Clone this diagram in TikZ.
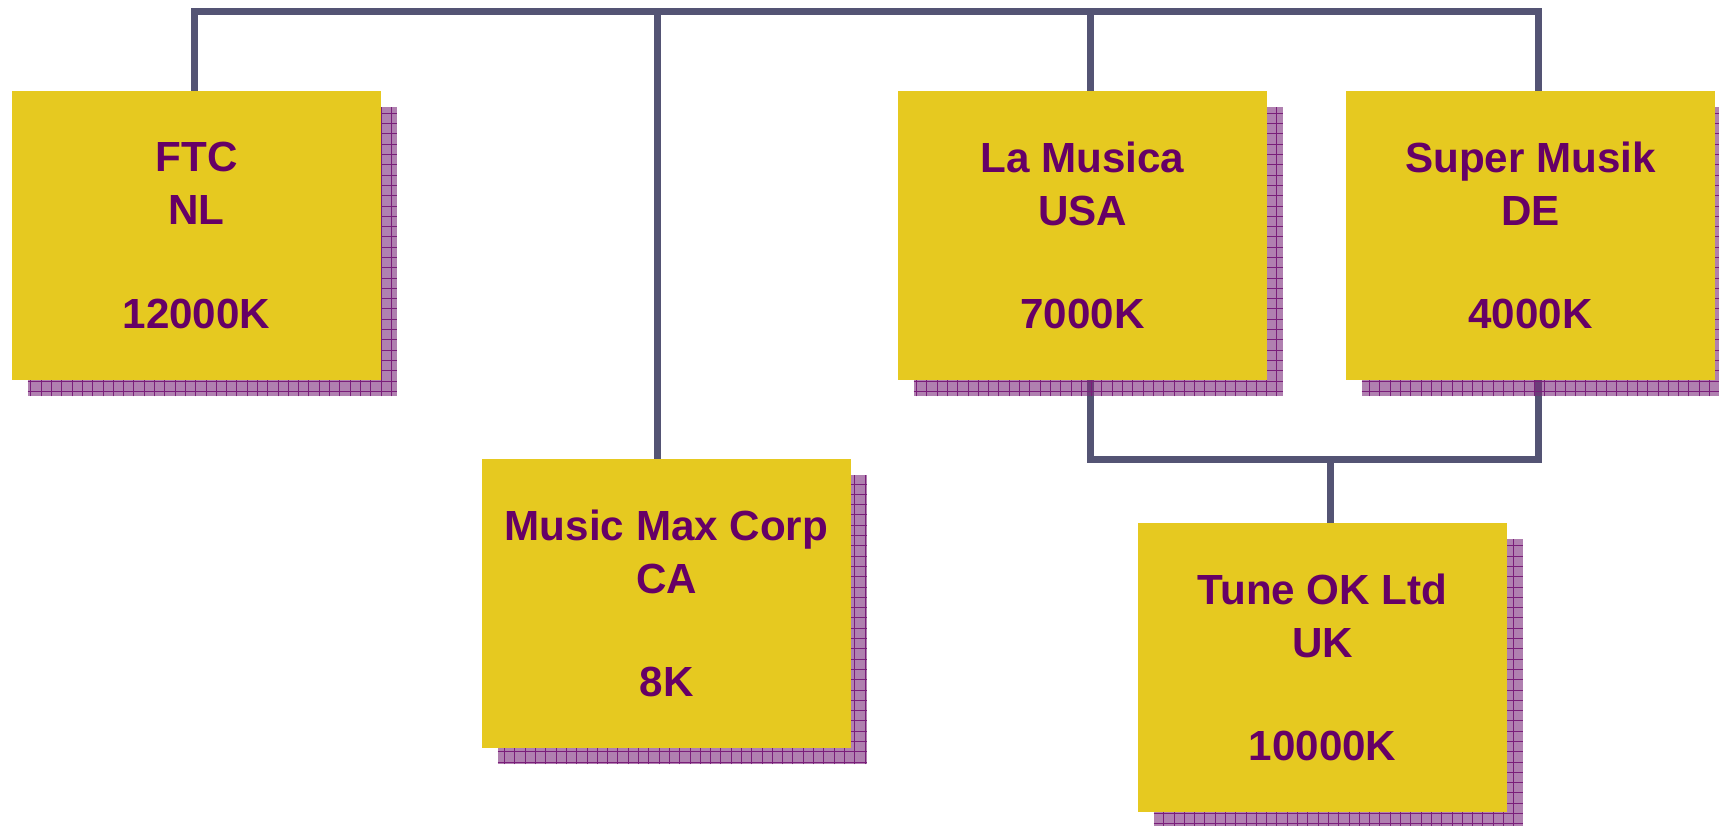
\documentclass[tikz,border=0pt]{standalone}
\usepackage{fontspec}
\setmainfont{Liberation Sans}
\usetikzlibrary{calc,backgrounds}
\definecolor{BoxYellow}{RGB}{230,201,32}
\definecolor{TextPurple}{RGB}{102,0,102}
\definecolor{BusGray}{RGB}{84,84,116}
\definecolor{ShadeBase}{RGB}{123,43,123}
\definecolor{ShadeGrid}{RGB}{122,30,122}
\tikzset{
  orgbox/.style={fill=BoxYellow,text=TextPurple,align=center,inner sep=0pt,
    minimum width=7.38cm,minimum height=5.78cm,
    font=\fontsize{24}{30}\selectfont\bfseries},
  bus/.style={BusGray,line width=0.14cm,line join=miter}
}
\newcommand{\orgshadow}[1]{%
  \fill[ShadeBase,fill opacity=0.6] ($(#1.south west)+(16,16)$) rectangle ($(#1.north east)+(16,16)$);
  \begin{scope}
    \clip ($(#1.south west)+(16,16)$) rectangle ($(#1.north east)+(16,16)$);
    \draw[ShadeGrid,line width=0.5pt,step=0.206cm] ($(#1.south west)+(16,16)$) grid ($(#1.north east)+(16,16)$);
  \end{scope}}

\begin{document}
\begin{tikzpicture}[x=0.02cm,y=-0.02cm]
  \useasboundingbox (0,0) rectangle (1719,825);
  % companies
  \node[orgbox] (ftc) at (196.5,235.5) {FTC\\NL\\[1.02cm]12000K};
  \node[orgbox] (mmc) at (666.5,603.5) {Music Max Corp\\CA\\[1.02cm]8K};
  \node[orgbox] (lm) at (1082.5,235.5) {La Musica\\USA\\[1.02cm]7000K};
  \node[orgbox] (sm) at (1530.5,235.5) {Super Musik\\DE\\[1.02cm]4000K};
  \node[orgbox] (tok) at (1322.5,667.5) {Tune OK Ltd\\UK\\[1.02cm]10000K};
  % bus points
  \coordinate (topl) at (194,11);
  \coordinate (topm) at (657,11);
  \coordinate (topc) at (1090,11);
  \coordinate (topr) at (1538,11);
  \coordinate (botl) at (1090,459);
  \coordinate (botm) at (1330,459);
  \coordinate (botr) at (1538,459);
  \begin{scope}[on background layer]
    \draw[bus] (ftc.north -| topl) -- (topl) -- (topr) -- (sm.north -| topr);
    \draw[bus] (topm) -- (mmc.north -| topm);
    \draw[bus] (topc) -- (lm.north -| topc);
    \draw[bus] (lm.south -| botl) -- (botl) -- (botr) -- (sm.south -| botr);
    \draw[bus] (botm) -- (tok.north -| botm);
    % shadows
    \orgshadow{ftc}
    \orgshadow{mmc}
    \orgshadow{lm}
    \orgshadow{sm}
    \orgshadow{tok}
  \end{scope}
\end{tikzpicture}
\end{document}
